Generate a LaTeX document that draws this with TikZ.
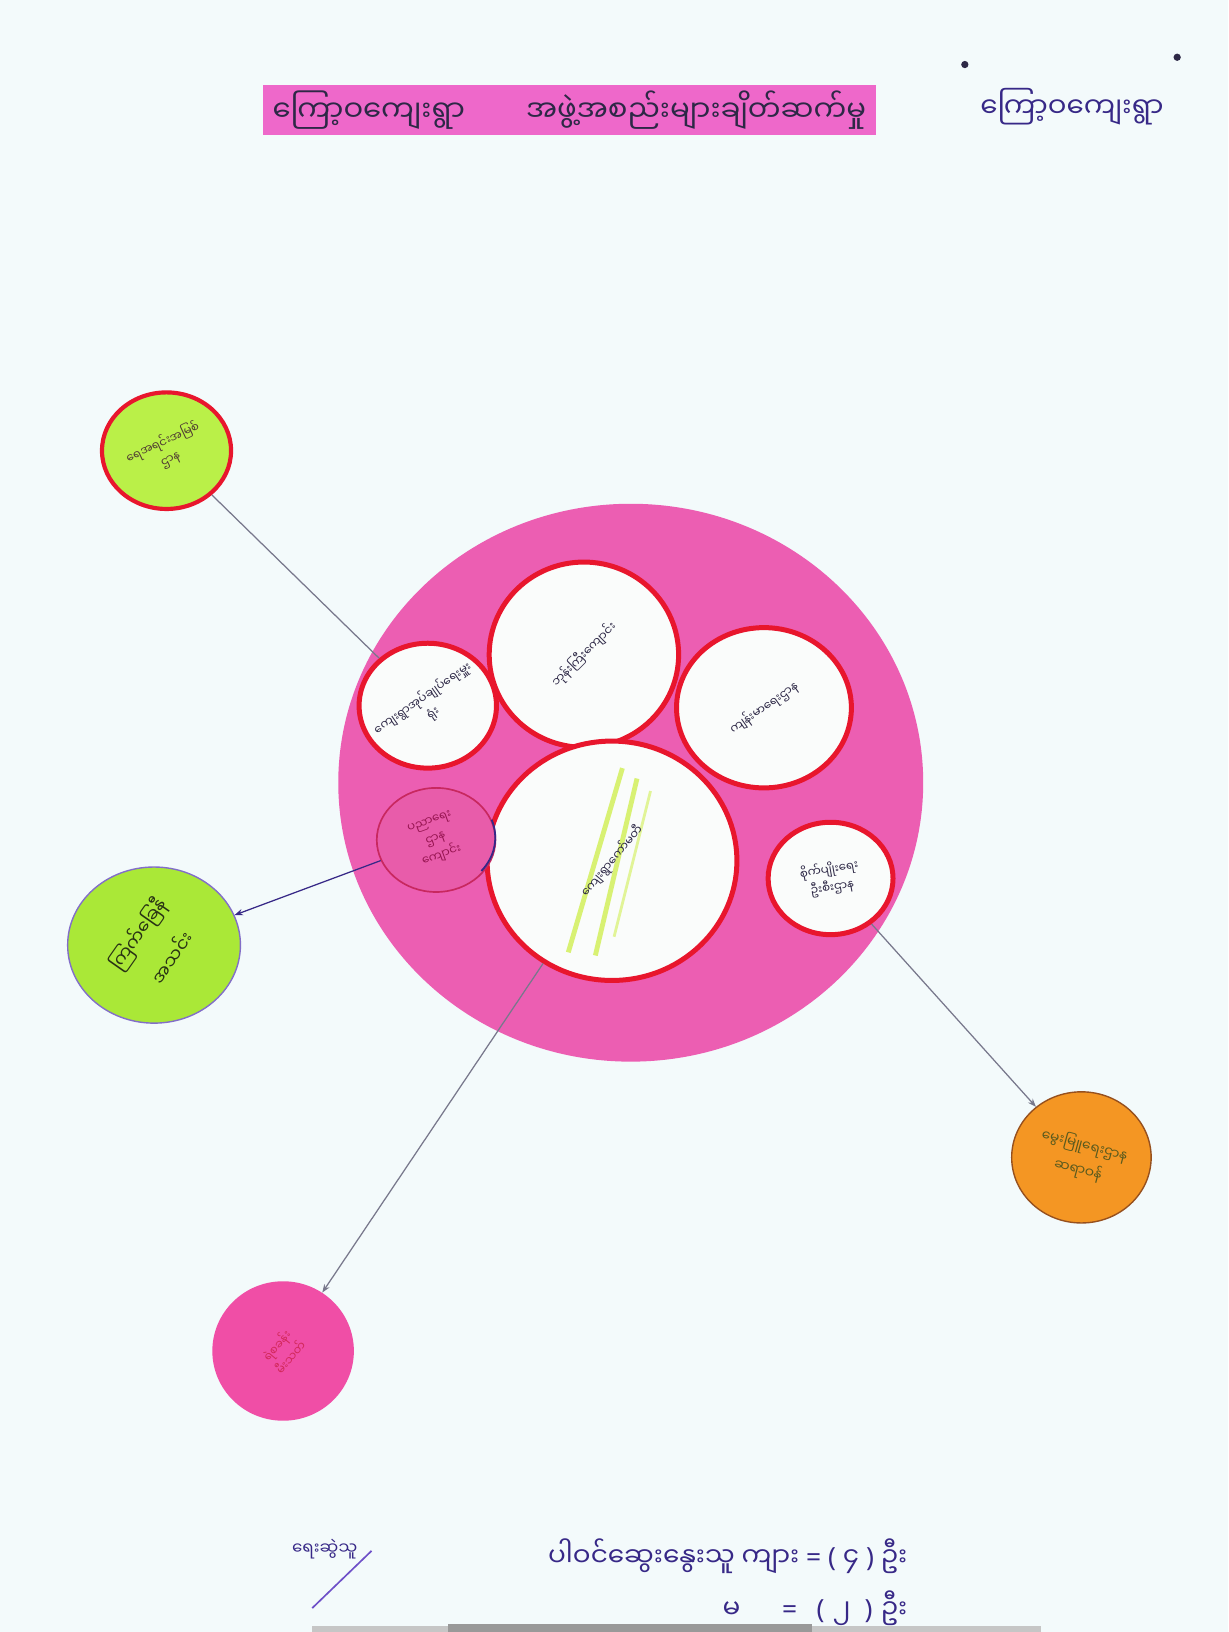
\documentclass[tikz,border=0pt]{standalone}
\usepackage{fontspec}
\usepackage{tikz}
\usetikzlibrary{shapes.geometric,arrows.meta}
\newfontfamily\mmfont[Script=Myanmar]{Noto Sans Myanmar UI}
\newfontfamily\symfont{Noto Sans}
\definecolor{paper}{RGB}{243,250,251}
\definecolor{titlepink}{RGB}{238,104,202}
\definecolor{bigpink}{RGB}{236,94,178}
\definecolor{ringred}{RGB}{232,22,45}
\definecolor{ringfill}{RGB}{250,252,251}
\definecolor{smallpink}{RGB}{232,92,170}
\definecolor{limea}{RGB}{186,240,72}
\definecolor{limeb}{RGB}{170,232,55}
\definecolor{orangec}{RGB}{244,150,35}
\definecolor{pinkd}{RGB}{240,78,166}
\definecolor{inkdark}{RGB}{45,40,70}
\definecolor{inkblue}{RGB}{55,40,135}
\definecolor{linkgray}{RGB}{120,120,140}
\definecolor{hilite}{RGB}{205,238,70}
\definecolor{slashcol}{RGB}{110,80,200}
\begin{document}
\begin{tikzpicture}[x=0.75pt,y=0.75pt,yscale=-1,xscale=1,
  ring/.style={ellipse,draw=ringred,line width=3.6pt,fill=ringfill,inner sep=0pt},
  org/.style={ellipse,inner sep=0pt},
  lbl/.style={font=\mmfont\fontsize{8.5}{13}\selectfont,text=inkdark,align=center,inner sep=0pt},
  foot/.style={font=\mmfont\fontsize{19}{22}\selectfont,text=inkblue,inner sep=0pt,anchor=east},
  link/.style={draw=linkgray,line width=0.9pt}]
\useasboundingbox (0,0) rectangle (1180,1568);
\fill[paper] (0,0) rectangle (1180,1568);
% shadow at the foot of the sheet
\fill[gray!45] (300,1562) rectangle (1000,1568);
\fill[gray!80] (430,1560) rectangle (780,1568);

% Title bar
\node (title) [fill=titlepink,minimum width=442pt,minimum height=36pt,inner sep=0pt,
  font=\mmfont\fontsize{21}{23}\selectfont,text=inkdark] at (547,106)
  {ကြော့ဝကျေးရွာ\hspace{44pt}အဖွဲ့အစည်းများချိတ်ဆက်မှု};
% Village name
\node (village) [font=\mmfont\fontsize{20}{22}\selectfont,text=inkblue,inner sep=0pt] at (1030,102) {ကြော့ဝကျေးရွာ};
\fill[inkdark] (927,62) circle (3.5);
\fill[inkdark] (1131,55) circle (3.5);

% Big circle
\node (big) [org,fill=bigpink,minimum width=421.5pt,minimum height=402pt] at (606,752) {};
% Inner circles
\node (in2) [ring,minimum width=99pt,minimum height=90pt] at (411,678) {};
\node (in1) [ring,minimum width=136.5pt,minimum height=133.5pt] at (561,629) {};
\node (in3) [ring,minimum width=126pt,minimum height=115.5pt] at (734,680) {};
\node (in4) [ring,minimum width=180pt,minimum height=172.5pt] at (588,827) {};
\node (in5) [org,fill=smallpink,draw={rgb,255:red,200;green,40;blue,95},line width=1.2pt,
  minimum width=85.5pt,minimum height=75pt] at (419,807) {};
\node (in6) [ring,minimum width=90pt,minimum height=81pt] at (798,844) {};
\draw[inkblue,line width=1.3pt] (in5.20) arc[start angle=-20,end angle=40,x radius=42.75pt,y radius=37.5pt];

% highlighter strokes
\draw[hilite,line width=3.5pt,opacity=0.75] (598,738) -- (546,915);
\draw[hilite,line width=3.5pt,opacity=0.75] (612,748) -- (572,918);
\draw[hilite,line width=2pt,opacity=0.55] (625,760) -- (590,900);

% Outer circles
\node (orgA) [org,fill=limea,draw=ringred,line width=3pt,minimum width=93pt,minimum height=84pt] at (160,433) {};
\node (orgB) [org,fill=limeb,draw={rgb,255:red,130;green,110;blue,200},line width=1pt,minimum width=124.5pt,minimum height=112.5pt] at (148,908) {};
\node (orgC) [org,fill=orangec,draw={rgb,255:red,150;green,80;blue,30},line width=1pt,minimum width=100.5pt,minimum height=94.5pt] at (1039,1112) {};
\node (orgD) [org,fill=pinkd,minimum width=102pt,minimum height=100.5pt] at (272,1298) {};

% Labels
\node (t1) [lbl,rotate=45] at (in1) {ဘုန်းကြီးကျောင်း};
\node (t2) [lbl,rotate=35] at (in2) {ကျေးရွာအုပ်ချုပ်ရေးမှူး\\ရုံး};
\node (t3) [lbl,rotate=35] at (in3) {ကျန်းမာရေးဌာန};
\node (t4) [lbl,rotate=50] at (in4) {ကျေးရွာကော်မတီ};
\node (t5) [lbl,rotate=20,text={rgb,255:red,150;green,20;blue,80}] at (in5) {ပညာရေး\\ဌာန\\ကျောင်း};
\node (t6) [lbl,rotate=10] at (in6) {စိုက်ပျိုးရေး\\ဦးစီးဌာန};
\node (tA) [lbl,rotate=25,text={rgb,255:red,80;green,60;blue,50}] at (orgA) {ရေအရင်းအမြစ်\\ဌာန};
\node (tB) [lbl,rotate=55,font=\mmfont\fontsize{13}{30}\selectfont,text={rgb,255:red,40;green,50;blue,20}] at (orgB) {ကြက်ခြေနီ\\အသင်း};
\node (tC) [lbl,rotate=-15,font=\mmfont\fontsize{10}{18}\selectfont,text={rgb,255:red,90;green,90;blue,30}] at (orgC) {မွေးမြူရေးဌာန\\ဆရာဝန်};
\node (tD) [lbl,rotate=50,text={rgb,255:red,210;green,40;blue,90}] at (orgD) {ရဲစခန်း\\မီးသတ်};

% Connectors
\draw[link] (orgA) -- (in2);
\draw[link,draw=inkblue,-{Stealth[length=6pt]}] (in5) -- (orgB);
\draw[link,-{Stealth[length=6pt]}] (in4) -- (orgD);
\draw[link,-{Stealth[length=6pt]}] (in6) -- (orgC);

% Foot note
\node (drawer) [font=\mmfont\fontsize{12}{14}\selectfont,text=inkblue,inner sep=0pt] at (312,1488) {ရေးဆွဲသူ};
\coordinate (slashtop) at (357,1490);
\coordinate (slashbot) at (300,1545);
\draw[slashcol,line width=1.2pt] (slashtop) -- (slashbot);
\node (men) [foot] at (872,1495) {ပါဝင်ဆွေးနွေးသူ ကျား {\symfont = ( }၄{\symfont\ ) }ဦး};
\node (women) [foot] at (872,1545) {မ\hspace{30pt}{\symfont =\hspace{14pt}(\hspace{6pt}}၂{\symfont\hspace{10pt})\hspace{6pt}}ဦး};
\end{tikzpicture}
\end{document}
